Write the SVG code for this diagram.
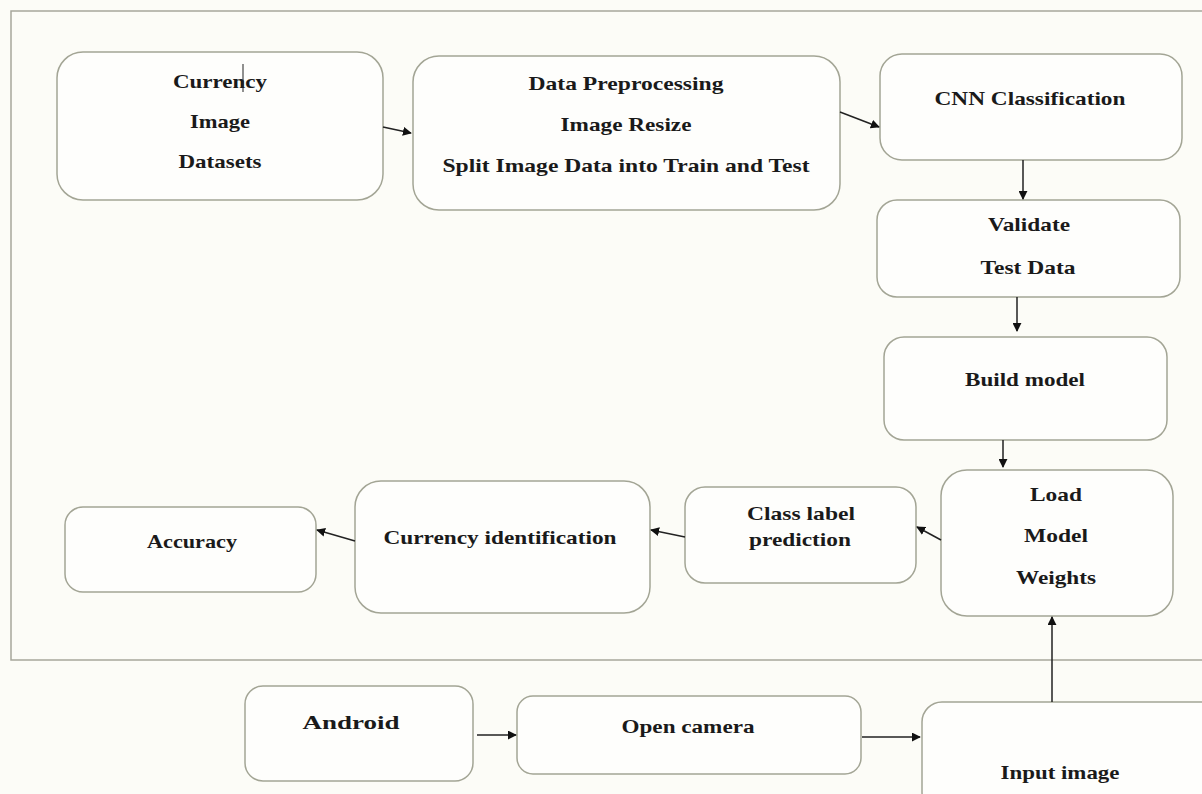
<svg xmlns="http://www.w3.org/2000/svg" width="1202" height="794" viewBox="0 0 1202 794">
<defs>
<style>
.bg{fill:#fcfcf7}
.frame{fill:none;stroke:#a6a69c;stroke-width:1.5}
.box{fill:#fefefc;stroke:#a3a595;stroke-width:1.5}
.t{font-family:"Liberation Serif","Times New Roman",serif;font-weight:bold;font-size:19px;fill:#1a1a1a;text-anchor:middle}
.c{stroke:#222;stroke-width:1.5;fill:none;marker-end:url(#ah)}
</style>
<marker id="ah" viewBox="0 0 10 10" refX="9" refY="5" markerWidth="9" markerHeight="9" markerUnits="userSpaceOnUse" orient="auto">
<path d="M0,0 L10,5 L0,10 z" fill="#111"/>
</marker>
</defs>
<rect class="bg" x="0" y="0" width="1202" height="794"/>
<path class="frame" d="M1202,11 H11 V660 H1202"/>
<g id="n-datasets">
<rect class="box" x="57" y="52" width="326" height="148" rx="26"/>
<text class="t" x="220" y="88" textLength="94" lengthAdjust="spacingAndGlyphs">Currency</text>
<text class="t" x="220" y="128" textLength="60" lengthAdjust="spacingAndGlyphs">Image</text>
<text class="t" x="220" y="168" textLength="83" lengthAdjust="spacingAndGlyphs">Datasets</text>
<line x1="243" y1="64" x2="243" y2="92" stroke="#222" stroke-width="1"/>
</g>
<g id="n-preprocess">
<rect class="box" x="413" y="56" width="427" height="154" rx="26"/>
<text class="t" x="626" y="90" textLength="195" lengthAdjust="spacingAndGlyphs">Data Preprocessing</text>
<text class="t" x="626" y="131" textLength="131" lengthAdjust="spacingAndGlyphs">Image Resize</text>
<text class="t" x="626" y="172" textLength="367" lengthAdjust="spacingAndGlyphs">Split Image Data into Train and Test</text>
</g>
<g id="n-cnn">
<rect class="box" x="880" y="54" width="302" height="106" rx="22"/>
<text class="t" x="1030" y="105" textLength="191" lengthAdjust="spacingAndGlyphs">CNN Classification</text>
</g>
<g id="n-validate">
<rect class="box" x="877" y="200" width="303" height="97" rx="20"/>
<text class="t" x="1029" y="231" textLength="82" lengthAdjust="spacingAndGlyphs">Validate</text>
<text class="t" x="1028" y="274" textLength="95" lengthAdjust="spacingAndGlyphs">Test Data</text>
</g>
<g id="n-build">
<rect class="box" x="884" y="337" width="283" height="103" rx="20"/>
<text class="t" x="1025" y="386" textLength="120" lengthAdjust="spacingAndGlyphs">Build model</text>
</g>
<g id="n-load">
<rect class="box" x="941" y="470" width="232" height="146" rx="26"/>
<text class="t" x="1056" y="501" textLength="52" lengthAdjust="spacingAndGlyphs">Load</text>
<text class="t" x="1056" y="542" textLength="64" lengthAdjust="spacingAndGlyphs">Model</text>
<text class="t" x="1056" y="584" textLength="80" lengthAdjust="spacingAndGlyphs">Weights</text>
</g>
<g id="n-classlabel">
<rect class="box" x="685" y="487" width="231" height="96" rx="20"/>
<text class="t" x="801" y="520" textLength="108" lengthAdjust="spacingAndGlyphs">Class label</text>
<text class="t" x="800" y="546" textLength="102" lengthAdjust="spacingAndGlyphs">prediction</text>
</g>
<g id="n-identification">
<rect class="box" x="355" y="481" width="295" height="132" rx="26"/>
<text class="t" x="500" y="544" textLength="233" lengthAdjust="spacingAndGlyphs">Currency identification</text>
</g>
<g id="n-accuracy">
<rect class="box" x="65" y="507" width="251" height="85" rx="18"/>
<text class="t" x="192" y="548" textLength="90" lengthAdjust="spacingAndGlyphs">Accuracy</text>
</g>
<g id="n-android">
<rect class="box" x="245" y="686" width="228" height="95" rx="18"/>
<text class="t" x="351" y="729" textLength="97" lengthAdjust="spacingAndGlyphs">Android</text>
</g>
<g id="n-camera">
<rect class="box" x="517" y="696" width="344" height="78" rx="16"/>
<text class="t" x="688" y="733" textLength="133" lengthAdjust="spacingAndGlyphs">Open camera</text>
</g>
<g id="n-input">
<rect class="box" x="922" y="702" width="300" height="110" rx="20"/>
<text class="t" x="1060" y="779" textLength="119" lengthAdjust="spacingAndGlyphs">Input image</text>
</g>
<g id="connectors">
<line class="c" x1="383" y1="127" x2="411" y2="133"/>
<line class="c" x1="840" y1="112" x2="879" y2="127"/>
<line class="c" x1="1023" y1="160" x2="1023" y2="199"/>
<line class="c" x1="1017" y1="297" x2="1017" y2="331"/>
<line class="c" x1="1003" y1="440" x2="1003" y2="467"/>
<line class="c" x1="941" y1="540" x2="917" y2="527"/>
<line class="c" x1="685" y1="537" x2="651" y2="530"/>
<line class="c" x1="355" y1="541" x2="317" y2="530"/>
<line class="c" x1="477" y1="735" x2="516" y2="735"/>
<line class="c" x1="862" y1="737" x2="920" y2="737"/>
<line class="c" x1="1052" y1="702" x2="1052" y2="617"/>
</g>
</svg>
